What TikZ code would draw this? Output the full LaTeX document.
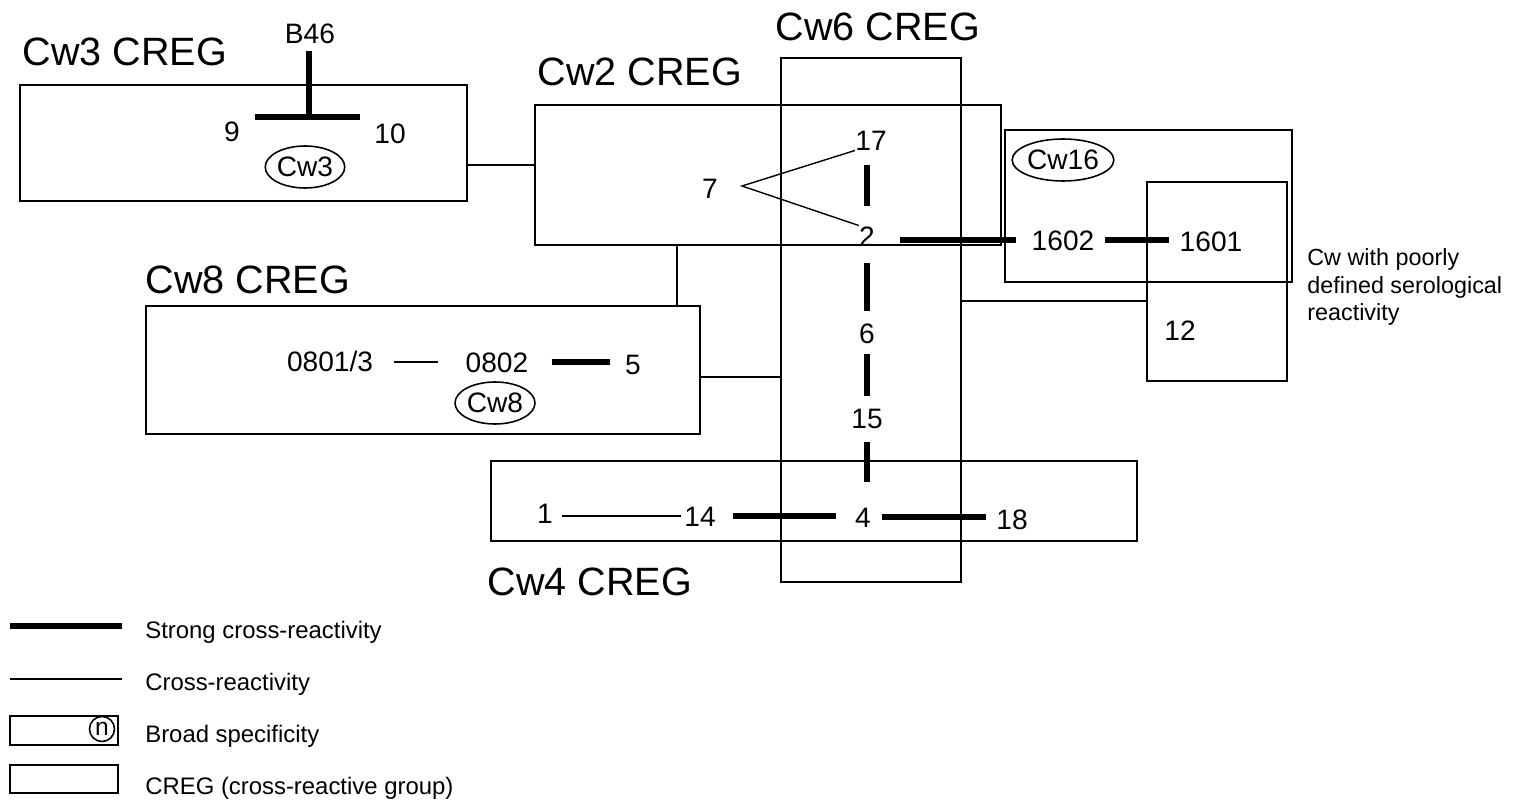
\documentclass[tikz,border=0pt]{standalone}
\usepackage{fontspec}
\setmainfont{Liberation Sans}
\usetikzlibrary{shapes.geometric}
\begin{document}
\begin{tikzpicture}[x=0.02cm,y=-0.02cm,
  title/.style={inner sep=0pt,font=\fontsize{22.5}{26}\selectfont},
  num/.style={inner sep=0pt,text height=11.5pt,text depth=0pt,font=\fontsize{16}{19}\selectfont},
  leg/.style={inner sep=0pt,anchor=west,font=\fontsize{13.6}{16}\selectfont},
  creg/.style={draw,line width=1.4pt,inner sep=0pt,outer sep=0pt},
  broadbox/.style={draw,line width=0.9pt,inner sep=0pt,outer sep=0pt},
  poorbox/.style={draw,line width=1.2pt,inner sep=0pt,outer sep=0pt},
  bell/.style={draw,ellipse,line width=0.9pt,inner sep=0pt,minimum height=0.84cm,font=\fontsize{16}{19}\selectfont},
  strong/.style={line width=3.4pt},
  weak/.style={line width=0.8pt}]
\useasboundingbox (0,0) rectangle (1515,804);

% CREG boxes
\node[creg,minimum width=8.94cm,minimum height=2.32cm] (cw3box) at (243.5,143) {};
\node[creg,minimum width=9.32cm,minimum height=2.8cm] (cw2box) at (768,175) {};
\node[creg,minimum width=3.6cm,minimum height=10.48cm] (cw6box) at (871,320) {};
\node[creg,minimum width=11.08cm,minimum height=2.56cm] (cw8box) at (423,370) {};
\node[creg,minimum width=12.92cm,minimum height=1.6cm] (cw4box) at (814,501) {};
\node[broadbox,minimum width=5.74cm,minimum height=3.04cm] (cw16box) at (1148.5,206) {};
\node[poorbox,minimum width=2.8cm,minimum height=3.98cm] (poorbox) at (1217,281.5) {};

% titles
\node[title] (t3) at (125,52) {Cw3 CREG};
\node[title] (t2) at (640,72) {Cw2 CREG};
\node[title] (t6) at (878,27) {Cw6 CREG};
\node[title] (t8) at (248,280) {Cw8 CREG};
\node[title] (t4) at (590,582) {Cw4 CREG};

% numbers
\node[num] (b46) at (310,33) {B46};
\node[num] (n9) at (232,131) {9};
\node[num] (n10) at (390,133) {10};
\node[bell,minimum width=1.5cm] (e3) at (305,167) {Cw3};
\node[num] (n7) at (710,188) {7};
\node[num] (n17) at (871,140) {17};
\node[num] (n2) at (867,236) {2};
\node[num] (n6) at (867,333) {6};
\node[num] (n15) at (867,418) {15};
\node[num] (n4) at (863,517) {4};
\node[num] (n1602) at (1063,240) {1602};
\node[num] (n1601) at (1211,241) {1601};
\node[num] (n12) at (1180,330) {12};
\node[bell,minimum width=1.7cm] (e16) at (1063,160) {Cw16};
\node[num] (n0801) at (330,361) {0801/3};
\node[num] (n0802) at (497,362) {0802};
\node[num] (n5) at (633,364) {5};
\node[bell,minimum width=1.6cm] (e8) at (495,403) {Cw8};
\node[num] (n1) at (545,513) {1};
\node[num] (n14) at (700,516) {14};
\node[num] (n18) at (1012,519) {18};
\node[leg,align=left,font=\fontsize{13.3}{15.5}\selectfont] (poor) at (1307,287) {Cw with poorly\\defined serological\\reactivity};

% B46 T junction
\coordinate (tj) at (309,117);
\coordinate (tl) at (255,117);
\coordinate (tr) at (360,117);
\draw[strong,shorten <=0.16cm] (b46.south -| tj) -- (tj);
\draw[strong] (tl) -- (tr);

% 7 to 17 and 2
\coordinate (v7) at (742,186);
\draw[weak] (n17.south west) -- (v7) -- (n2.north west);

% vertical strong chain
\draw[strong,shorten <=0.3cm,shorten >=0.4cm] (n17.south -| n2) -- (n2.north);
\draw[strong,shorten <=0.34cm,shorten >=0.24cm] (n2.south) -- (n6.north);
\draw[strong,shorten <=0.22cm,shorten >=0.24cm] (n6.south) -- (n15.north);
\draw[strong,shorten <=0.28cm,shorten >=0.5cm] (n15.south) -- (n15.south |- n4.north);

% horizontal strong
\draw[strong,shorten <=0.5cm,shorten >=0.3cm] (n2.east |- n1602.west) -- (n1602.west);
\draw[strong,shorten <=0.2cm,shorten >=0.2cm] (n1602.east) -- (n1602.east -| n1601.west);
\draw[weak,shorten <=0.42cm,shorten >=0.54cm] (n0801.east |- n0802.west) -- (n0802.west);
\draw[strong,shorten <=0.46cm,shorten >=0.3cm] (n0802.east) -- (n0802.east -| n5.west);
\draw[weak,shorten <=0.18cm,shorten >=0.06cm] (n1.east |- n14.west) -- (n14.west);
\draw[strong,shorten <=0.34cm,shorten >=0.38cm] (n14.east) -- (n14.east -| n4.west);
\draw[strong,shorten <=0.22cm,shorten >=0.2cm] (n4.east) -- (n4.east -| n18.west);

% box connections
\draw[weak] (cw3box.east |- 0,165) -- (cw2box.west |- 0,165);
\draw[weak] (cw2box.south -| 677,0) -- (cw8box.north -| 677,0);
\draw[weak] (cw8box.east |- 0,377) -- (cw6box.west |- 0,377);
\draw[weak] (cw6box.east |- 0,301) -- (poorbox.west |- 0,301);

% legend
\coordinate (l1a) at (10,626); \coordinate (l1b) at (122,626);
\draw[strong] (l1a) -- (l1b);
\node[leg] (lt1) at (145,632) {Strong cross-reactivity};
\coordinate (l2a) at (10,679); \coordinate (l2b) at (122,679);
\draw[weak] (l2a) -- (l2b);
\node[leg] (lt2) at (145,684) {Cross-reactivity};
\node[broadbox,minimum width=2.16cm,minimum height=0.58cm] (lbox1) at (64,730.5) {};
\node[draw,circle,line width=0.9pt,inner sep=0pt,minimum size=0.5cm,font=\fontsize{14}{16}\selectfont] (lcirc) at (102,729) {n};
\node[leg] (lt3) at (145,736) {Broad specificity};
\node[creg,minimum width=2.16cm,minimum height=0.56cm] (lbox2) at (64,779) {};
\node[leg] (lt4) at (145,788) {CREG (cross-reactive group)};
\end{tikzpicture}
\end{document}
